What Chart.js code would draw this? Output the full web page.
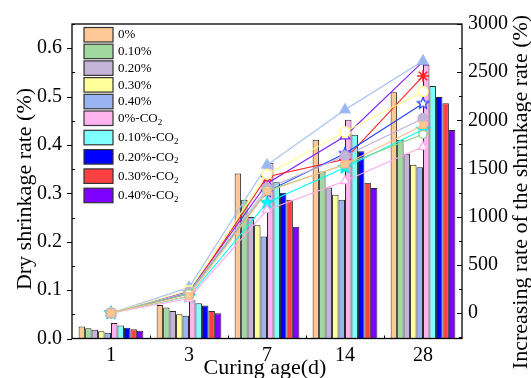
<!DOCTYPE html>
<html>
<head>
<meta charset="utf-8">
<script src="https://cdn.jsdelivr.net/npm/chart.js@4.4.0/dist/chart.umd.min.js"></script>
<style>
  html, body { margin: 0; padding: 0; background: #fff; }
  #wrap { width: 531px; height: 378px; }
</style>
</head>
<body>
<div id="wrap"><canvas id="shrinkChart" width="531" height="378"></canvas></div>
<script>
// curing ages (x categories)
const ages = ['1', '3', '7', '14', '28'];
const seriesNames = ['0%', '0.10%', '0.20%', '0.30%', '0.40%', '0%-CO2', '0.10%-CO2', '0.20%-CO2', '0.30%-CO2', '0.40%-CO2'];
const barColors = ['#FFC896', '#A0D8A0', '#C3B4D8', '#FFFF99', '#99B4F0', '#FFB4F0', '#80FFFF', '#0000FF', '#FF4040', '#8000FF'];
const lineColors = ['#FFBF8A', '#90D090', '#BFB0D8', '#FFFF88', '#9FBFF2', '#FFA8EE', '#00FFFF', '#2040FF', '#FF2020', '#8020FF'];

// dry shrinkage rate (%), left axis
const dry0     = [0.025, 0.069, 0.341, 0.411, 0.509];
const dry010   = [0.021, 0.064, 0.287, 0.345, 0.411];
const dry020   = [0.018, 0.057, 0.251, 0.312, 0.382];
const dry030   = [0.015, 0.050, 0.234, 0.297, 0.359];
const dry040   = [0.012, 0.047, 0.211, 0.287, 0.354];
const dry0co2  = [0.032, 0.079, 0.363, 0.452, 0.566];
const dry010co2 = [0.027, 0.073, 0.323, 0.421, 0.522];
const dry020co2 = [0.022, 0.068, 0.301, 0.387, 0.499];
const dry030co2 = [0.019, 0.057, 0.287, 0.322, 0.486];
const dry040co2 = [0.016, 0.052, 0.231, 0.311, 0.431];

// increasing rate of the shrinkage rate (%), right axis
const inc0      = [0, 175, 1260, 1545, 1950];
const inc010    = [0, 200, 1270, 1540, 1855];
const inc020    = [0, 215, 1295, 1630, 2020];
const inc030    = [0, 235, 1440, 1880, 2300];
const inc040    = [0, 265, 1535, 2110, 2615];
const inc0co2   = [0, 150, 1070, 1370, 1725];
const inc010co2 = [0, 170, 1145, 1510, 1905];
const inc020co2 = [0, 210, 1260, 1655, 2175];
const inc030co2 = [0, 200, 1415, 1595, 2460];
const inc040co2 = [0, 225, 1345, 1835, 2610];

const leftTicks = [0, 0.1, 0.2, 0.3, 0.4, 0.5, 0.6];
const rightTicks = [0, 500, 1000, 1500, 2000, 2500, 3000];

const dryData = [dry0, dry010, dry020, dry030, dry040, dry0co2, dry010co2, dry020co2, dry030co2, dry040co2];
const incData = [inc0, inc010, inc020, inc030, inc040, inc0co2, inc010co2, inc020co2, inc030co2, inc040co2];

const SERIF = '"Liberation Serif", "Times New Roman", serif';

function starMarker(fill, stroke, r) {
  const c = document.createElement('canvas');
  const s = Math.ceil(r * 2 + 4);
  c.width = c.height = s;
  const g = c.getContext('2d');
  g.beginPath();
  for (let k = 0; k < 10; k++) {
    const rad = k % 2 ? r * 0.45 : r;
    const a = -Math.PI / 2 + k * Math.PI / 5;
    g.lineTo(s / 2 + rad * Math.cos(a), s / 2 + rad * Math.sin(a));
  }
  g.closePath();
  g.fillStyle = fill;
  g.fill();
  g.strokeStyle = stroke;
  g.lineWidth = 1.2;
  g.stroke();
  return c;
}

// marker per series: [style, fill, radius]
const markers = [
  ['rect', '#FFC896', 4.5],
  ['circle', '#FFFFFF', 4],
  ['circle', '#C3B4D8', 5],
  ['circle', '#FFFFFF', 5],
  ['triangle', '#99B4F0', 6],
  ['triangle', '#FFFFFF', 5],
  [starMarker('#00FFFF', '#00E0E0', 6.5), null, 6],
  [starMarker('#FFFFFF', '#2040FF', 6), null, 6],
  ['star', '#FF2020', 6],
  ['triangle', '#FFFFFF', 5.5]
];

const datasets = [];
seriesNames.forEach((name, i) => {
  datasets.push({
    type: 'line',
    label: name + ' rate',
    data: incData[i],
    yAxisID: 'y2',
    order: 0,
    borderColor: lineColors[i],
    borderWidth: 1.1,
    fill: false,
    tension: 0,
    pointStyle: markers[i][0],
    pointRadius: markers[i][2],
    pointBackgroundColor: markers[i][1] || lineColors[i],
    pointBorderColor: lineColors[i],
    pointBorderWidth: i === 8 ? 1.6 : 1.3
  });
});
seriesNames.forEach((name, i) => {
  datasets.push({
    type: 'bar',
    label: name,
    data: dryData[i],
    yAxisID: 'y',
    order: 1,
    backgroundColor: barColors[i],
    borderColor: '#2a2a2a',
    borderWidth: 1,
    barPercentage: 1.0,
    categoryPercentage: 0.83
  });
});

const framePlugin = {
  id: 'frameAndText',
  afterDraw(chart) {
    const ctx = chart.ctx;
    const a = chart.chartArea;
    const y = chart.scales.y, y2 = chart.scales.y2, x = chart.scales.x;
    ctx.save();
    ctx.strokeStyle = '#000';
    ctx.lineWidth = 1.3;
    ctx.strokeRect(a.left, a.top, a.right - a.left, a.bottom - a.top);

    ctx.lineWidth = 1;
    ctx.beginPath();
    // left ticks
    for (let v = 0; v <= 0.65; v += 0.05) {
      const py = Math.round(y.getPixelForValue(v)) + 0.5;
      const major = Math.abs(v * 10 - Math.round(v * 10)) < 0.01;
      if (major) { ctx.moveTo(a.left - 5, py); ctx.lineTo(a.left, py); }
      else { ctx.moveTo(a.left, py); ctx.lineTo(a.left + 3, py); }
    }
    // right ticks
    for (let v = -250; v <= 3000; v += 250) {
      const py = Math.round(y2.getPixelForValue(v)) + 0.5;
      if (py > a.bottom) continue;
      const major = v % 500 === 0;
      ctx.moveTo(a.right, py); ctx.lineTo(a.right - (major ? 5 : 3), py);
    }
    // x ticks at category boundaries
    for (let i = 0; i < ages.length - 1; i++) {
      const px = Math.round((x.getPixelForValue(i) + x.getPixelForValue(i + 1)) / 2) + 0.5;
      ctx.moveTo(px, a.bottom); ctx.lineTo(px, a.bottom - 3);
    }
    ctx.stroke();

    // axis titles
    ctx.fillStyle = '#000';
    ctx.textAlign = 'center';
    ctx.textBaseline = 'middle';
    ctx.font = '22px ' + SERIF;
    ctx.fillText('Curing age(d)', 265, 368);
    ctx.save();
    ctx.translate(25, 189);
    ctx.rotate(-Math.PI / 2);
    ctx.fillText('Dry shrinkage rate (%)', 0, 0);
    ctx.restore();
    ctx.save();
    ctx.translate(521, 192);
    ctx.rotate(-Math.PI / 2);
    ctx.fillText('Increasing rate of the shrinkage rate (%)', 0, 0);
    ctx.restore();

    // legend (bars only)
    let top = 27.5;
    ctx.textAlign = 'left';
    seriesNames.forEach((name, i) => {
      const co2 = name.endsWith('CO2');
      ctx.fillStyle = barColors[i];
      ctx.fillRect(84, top, 29, 14.5);
      ctx.strokeStyle = '#333';
      ctx.lineWidth = 1.2;
      ctx.strokeRect(84, top, 29, 14.5);
      ctx.fillStyle = '#000';
      ctx.font = '13px ' + SERIF;
      const base = co2 ? name.slice(0, -1) : name;
      ctx.fillText(base, 118, top + 7.5);
      if (co2) {
        const w = ctx.measureText(base).width;
        ctx.font = '9px ' + SERIF;
        ctx.fillText('2', 118 + w, top + 11.5);
      }
      top += co2 ? 19.3 : 16.7;
    });
    ctx.restore();
  }
};

const tickFont = { family: SERIF, size: 20 };

new Chart(document.getElementById('shrinkChart'), {
  data: { labels: ages, datasets },
  options: {
    responsive: false,
    animation: false,
    devicePixelRatio: 1,
    layout: { padding: { top: 24, left: 0, right: 0, bottom: 0 } },
    plugins: { legend: { display: false }, tooltip: { enabled: false } },
    scales: {
      x: {
        type: 'category',
        offset: true,
        grid: { display: false, drawTicks: false },
        border: { display: false },
        ticks: { font: tickFont, color: '#000', padding: 5, maxRotation: 0 },
        afterFit: s => { s.height = 39.5; }
      },
      y: {
        position: 'left',
        min: 0,
        max: 0.65,
        grid: { display: false, drawTicks: false },
        border: { display: false },
        ticks: { font: tickFont, color: '#000', padding: 10, callback: v => v.toFixed(1) },
        afterBuildTicks: s => { s.ticks = leftTicks.map(v => ({ value: v })); },
        afterFit: s => { s.width = 72; }
      },
      y2: {
        position: 'right',
        min: -265,
        max: 3000,
        grid: { display: false, drawTicks: false },
        border: { display: false },
        ticks: { font: tickFont, color: '#000', padding: 6, callback: v => String(v) },
        afterBuildTicks: s => { s.ticks = rightTicks.map(v => ({ value: v })); },
        afterFit: s => { s.width = 69; }
      }
    }
  },
  plugins: [framePlugin]
});
</script>
</body>
</html>
